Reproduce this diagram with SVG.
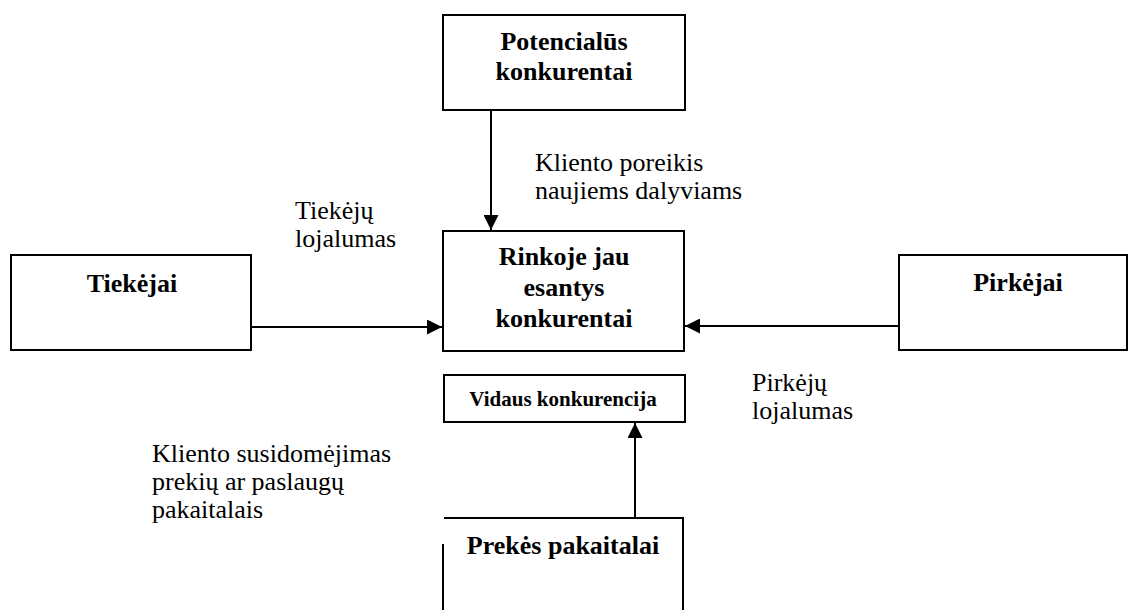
<svg xmlns="http://www.w3.org/2000/svg" width="1129" height="610" viewBox="0 0 1129 610">
  <style>
    .box { fill: #ffffff; stroke: #000000; stroke-width: 2; }
    .title { font-family: 'Liberation Serif', Tinos, 'Times New Roman', Times, 'DejaVu Serif', serif; font-weight: bold; font-size: 26px; fill: #000000; text-anchor: middle; }
    .small { font-size: 21px; }
    .note { font-family: 'Liberation Serif', Tinos, 'Times New Roman', Times, 'DejaVu Serif', serif; font-size: 26px; fill: #000000; }
    .link { fill: none; stroke: #000000; stroke-width: 2; }
  </style>
  <defs>
    <marker id="arrow" viewBox="0 0 15 15" refX="15" refY="7.5" markerWidth="15" markerHeight="15" markerUnits="userSpaceOnUse" orient="auto">
      <path d="M0,0 L15,7.5 L0,15 Z" fill="#000000"/>
    </marker>
  </defs>
  <rect width="1129" height="610" fill="#ffffff"/>

  <g id="potencialus">
    <rect class="box" x="443" y="15" width="242" height="95"/>
    <text class="title" x="564" y="50">Potencialūs</text>
    <text class="title" x="564" y="80">konkurentai</text>
  </g>

  <g id="rinkoje">
    <rect class="box" x="443" y="231" width="241" height="120"/>
    <text class="title" x="564" y="265">Rinkoje jau</text>
    <text class="title" x="564" y="296">esantys</text>
    <text class="title" x="564" y="327">konkurentai</text>
  </g>

  <g id="tiekejai">
    <rect class="box" x="11" y="255" width="240" height="95"/>
    <text class="title" x="132" y="292">Tiekėjai</text>
  </g>

  <g id="pirkejai">
    <rect class="box" x="899" y="255" width="228" height="95"/>
    <text class="title" x="1018" y="291">Pirkėjai</text>
  </g>

  <g id="vidaus">
    <rect class="box" x="444" y="375" width="241" height="47"/>
    <text class="title small" x="563" y="406">Vidaus konkurencija</text>
  </g>

  <g id="prekes">
    <path class="box" d="M444,518 H683 V614 M443,544 V614"/>
    <text class="title" x="563" y="554">Prekės pakaitalai</text>
  </g>

  <g id="connectors">
    <line class="link" x1="491" y1="110" x2="491" y2="230" marker-end="url(#arrow)"/>
    <line class="link" x1="251" y1="327" x2="442" y2="327" marker-end="url(#arrow)"/>
    <line class="link" x1="899" y1="326" x2="685" y2="326" marker-end="url(#arrow)"/>
    <line class="link" x1="635" y1="518" x2="635" y2="423" marker-end="url(#arrow)"/>
  </g>

  <g id="labels">
    <text class="note" x="535" y="171">Kliento poreikis</text>
    <text class="note" x="535" y="199">naujiems dalyviams</text>
    <text class="note" x="295" y="219">Tiekėjų</text>
    <text class="note" x="295" y="247">lojalumas</text>
    <text class="note" x="752" y="391">Pirkėjų</text>
    <text class="note" x="752" y="419">lojalumas</text>
    <text class="note" x="152" y="462">Kliento susidomėjimas</text>
    <text class="note" x="152" y="490">prekių ar paslaugų</text>
    <text class="note" x="152" y="518">pakaitalais</text>
  </g>
</svg>
